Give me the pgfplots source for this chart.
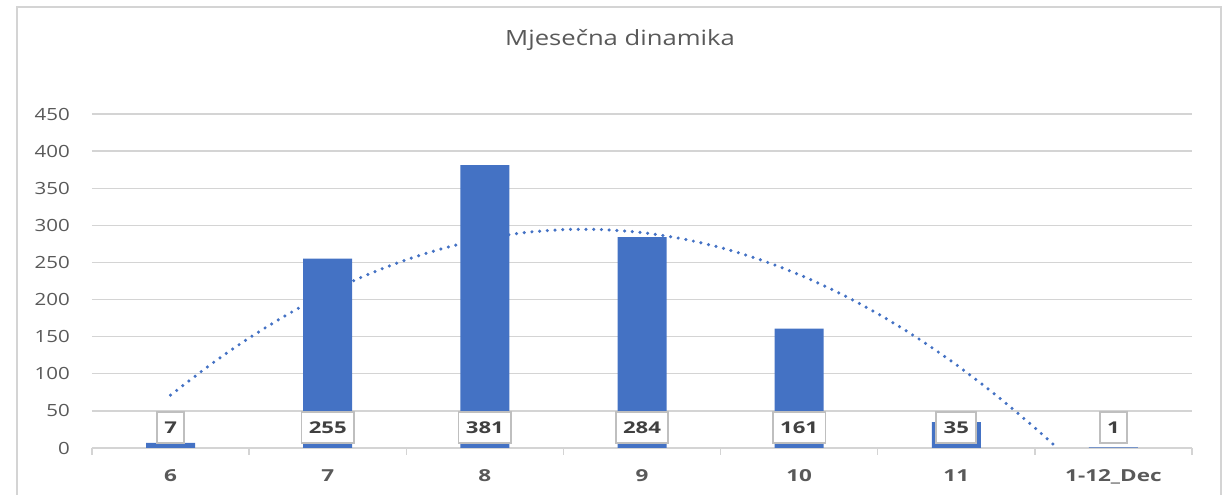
\documentclass[border=0pt]{standalone}
\usepackage{fontspec}
\setmainfont{Open Sans}[FakeStretch=1.22, BoldFeatures={FakeStretch=1.36}]
\usepackage{pgfplots}
\pgfplotsset{compat=1.18}
\definecolor{barblue}{HTML}{4472C4}
\definecolor{txtgray}{HTML}{595959}
\definecolor{lblgray}{HTML}{404040}
\definecolor{gridgray}{HTML}{D4D4D4}
\definecolor{boxgray}{HTML}{BFBFBF}
\begin{document}
\begin{tikzpicture}
\path[use as bounding box] (-69pt,-35.25pt) rectangle (848.25pt,336pt);
\draw[gridgray, line width=1.4pt] (-56.25pt,-40pt) -- (-56.25pt,330.75pt) -- (846.75pt,330.75pt) -- (846.75pt,-40pt);
\begin{axis}[at={(0,0)}, anchor=south west, scale only axis,
  width=825pt, height=250.5pt,
  xmin=-0.5, xmax=6.5, ymin=0, ymax=450,
  xtick={0,...,6}, xticklabels={6,7,8,9,10,11,1-12\_Dec},
  minor xtick={-0.5,0.5,...,6.5},
  ytick={0,50,...,450},
  ymajorgrids, grid style={gridgray, line width=1pt},
  axis line style={draw=none},
  major tick length=0pt, minor tick length=5pt, tick align=outside,
  xtick pos=bottom, ytick pos=left,
  minor tick style={gridgray, line width=1pt},
  major tick style={draw=none},
  /pgf/number format/assume math mode=true,
  yticklabel style={font=\fontsize{12.6}{14}\selectfont, text=txtgray, anchor=east, inner sep=0pt, xshift=-16.5pt},
  xticklabel style={font=\bfseries\fontsize{12.4}{14}\selectfont, text=txtgray, anchor=base, inner sep=0pt, yshift=-25.3pt},
]
\addplot[ybar, bar width=36.75pt, fill=barblue, draw=none] coordinates {(0,7) (1,255) (2,381) (3,284) (4,161) (5,35) (6,1)};
\addplot[barblue, line width=2.6pt, line cap=round, dash pattern=on 0pt off 5.8pt, smooth, mark=none] coordinates {
(0,71.19) (0.25,111.72) (0.5,148.2) (0.75,180.62) (1,209.0) (1.25,233.32) (1.5,253.6) (1.75,269.83) (2,282.0) (2.25,290.12) (2.5,294.2) (2.75,294.21) (3,290.19) (3.25,282.11) (3.5,269.98) (3.75,253.80) (4,233.57) (4.25,209.29) (4.5,180.96) (4.75,148.58) (5,112.14) (5.25,71.66) (5.5,27.12) (5.642,0)};
\addplot[draw=none, mark=none, nodes near coords, point meta=explicit symbolic,
  nodes near coords style={anchor=center, fill=white, draw=boxgray, line width=1.3pt, text=lblgray, font=\bfseries\fontsize{12.2}{14}\selectfont, inner xsep=5.5pt, inner ysep=0pt, minimum height=23pt, text depth=0pt}]
  coordinates {(0,27.6)[7] (1,27.6)[255] (2,27.6)[381] (3,27.6)[284] (4,27.6)[161] (5,27.6)[35] (6,27.6)[1]};
\end{axis}
\node[anchor=base, text=txtgray, font=\fontsize{15.75}{18}\selectfont] at (396pt,301.5pt) {Mjesečna dinamika};
\end{tikzpicture}
\end{document}
